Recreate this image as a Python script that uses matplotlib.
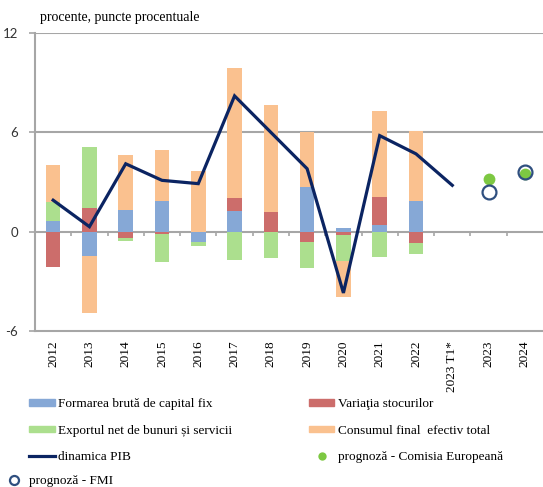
import numpy as np
import matplotlib
matplotlib.use('Agg')
import matplotlib.pyplot as plt
from matplotlib.patches import Patch
from matplotlib.lines import Line2D

############################### Data #############################################

years = ['2012', '2013', '2014', '2015', '2016', '2017', '2018', '2019',
         '2020', '2021', '2022', '2023 T1*', '2023', '2024']

# contributii la cresterea PIB (puncte procentuale), 2012-2022
fbcf = [0.67, -1.47, 1.31, 1.86, -0.60, 1.27, 0.00, 2.67, 0.24, 0.40, 1.88]
stocuri = [-2.16, 1.45, -0.36, -0.12, 0.00, 0.78, 1.17, -0.60, -0.20, 1.68, -0.67]
export_net = [1.15, 3.68, -0.20, -1.70, -0.25, -1.72, -1.60, -1.62, -1.56, -1.52, -0.68]
consum = [2.22, -3.43, 3.33, 3.09, 3.68, 7.86, 6.50, 3.33, -2.18, 5.19, 4.18]

# dinamica PIB 2012 - 2023 T1
pib = [1.9, 0.3, 4.1, 3.1, 2.9, 8.2, 6.0, 3.8, -3.7, 5.8, 4.7, 2.8]

# prognoze 2023, 2024
prog_ce = [3.2, 3.5]
prog_fmi = [2.4, 3.6]

################################ Plot ############################################

plt.rcParams['font.family'] = ['Liberation Serif', 'DejaVu Serif']
plt.rcParams['axes.unicode_minus'] = False

c_blue = '#86a8d6'
c_red = '#cc6d6b'
c_green = '#acdf8e'
c_orange = '#fac18f'
c_line = '#0b2462'
c_grid = '#a6a6a6'

fig = plt.figure(figsize=(5.43, 4.87), dpi=100)
ax = fig.add_axes([35/543, 1-331/487, 508/543, 298/487])

x = np.arange(len(years))
nb = len(fbcf)
pos_bottom = np.zeros(nb)
neg_bottom = np.zeros(nb)
for vals, col in [(fbcf, c_blue), (stocuri, c_red), (export_net, c_green), (consum, c_orange)]:
    v = np.array(vals)
    bottom = np.where(v >= 0, pos_bottom, neg_bottom)
    ax.bar(x[:nb], v, 0.4, bottom=bottom, color=col, zorder=2)
    pos_bottom += np.where(v >= 0, v, 0)
    neg_bottom += np.where(v < 0, v, 0)

ax.plot(x[:len(pib)], pib, color=c_line, lw=2.3, zorder=4, solid_joinstyle='miter')
ax.plot(x[-2:], prog_ce, 'o', color='#7dc842', ms=8.5, mec='none', zorder=5)
ax.plot(x[-2:], prog_fmi, 'o', mfc='none', mec='#2f4f7f', mew=1.6, ms=10, zorder=6)

# axes styling
ax.set_xlim(-0.5, len(years) - 0.5)
ax.set_ylim(-6, 12)
ax.set_yticks([-6, 0, 6, 12])
for yv in [6, 12]:
    ax.axhline(yv, color=c_grid, lw=1.5, zorder=1)
ax.axhline(0, color=c_grid, lw=1.5, zorder=1)
bounds = np.arange(0.5, len(years) - 0.5, 1.0)
ax.vlines(bounds, -0.25, 0, color=c_grid, lw=1.2, zorder=1)

for s in ['top', 'right']:
    ax.spines[s].set_visible(False)
for s in ['left', 'bottom']:
    ax.spines[s].set_color(c_grid)
    ax.spines[s].set_linewidth(1.5)

ax.set_xticks(x)
ax.set_xticklabels(years, rotation=90, fontsize=9.5, va='top')
ax.tick_params(axis='x', length=0, pad=7)
ax.tick_params(axis='y', length=4, color=c_grid, width=1.2, pad=8, labelsize=9.5)
for lbl in ax.get_yticklabels():
    lbl.set_family('Lato')
    lbl.set_color('#333333')

fig.text(40/543, 1-18/487, 'procente, puncte procentuale', fontsize=10, va='center', ha='left')

# legend
h = [Patch(color=c_blue), Patch(color=c_green),
     Line2D([], [], color=c_line, lw=2.3),
     Patch(color=c_red), Patch(color=c_orange),
     Line2D([], [], ls='none', marker='o', color='#7dc842', ms=6, mec='none')]
labels = ['Formarea brută de capital fix', 'Exportul net de bunuri și servicii', 'dinamica PIB',
          'Variaţia stocurilor', 'Consumul final  efectiv total', 'prognoză - Comisia Europeană']
fig.legend(h, labels, ncol=2, loc='upper left', bbox_to_anchor=(29/543, 1-398/487),
           frameon=False, fontsize=9.5, handlelength=1.95, handleheight=0.38,
           handletextpad=0.25, labelspacing=1.1, columnspacing=5.8, borderpad=0,
           borderaxespad=0)
h2 = [Line2D([], [], ls='none', marker='o', mfc='none', mec='#2f4f7f', mew=1.6, ms=6.5)]
fig.legend(h2, ['prognoză - FMI'], loc='upper left', bbox_to_anchor=(4/543, 1-475/487),
           frameon=False, fontsize=9.5, handlelength=1.5, handletextpad=0.4,
           borderpad=0, borderaxespad=0)

plt.savefig('out.png', dpi=100)
